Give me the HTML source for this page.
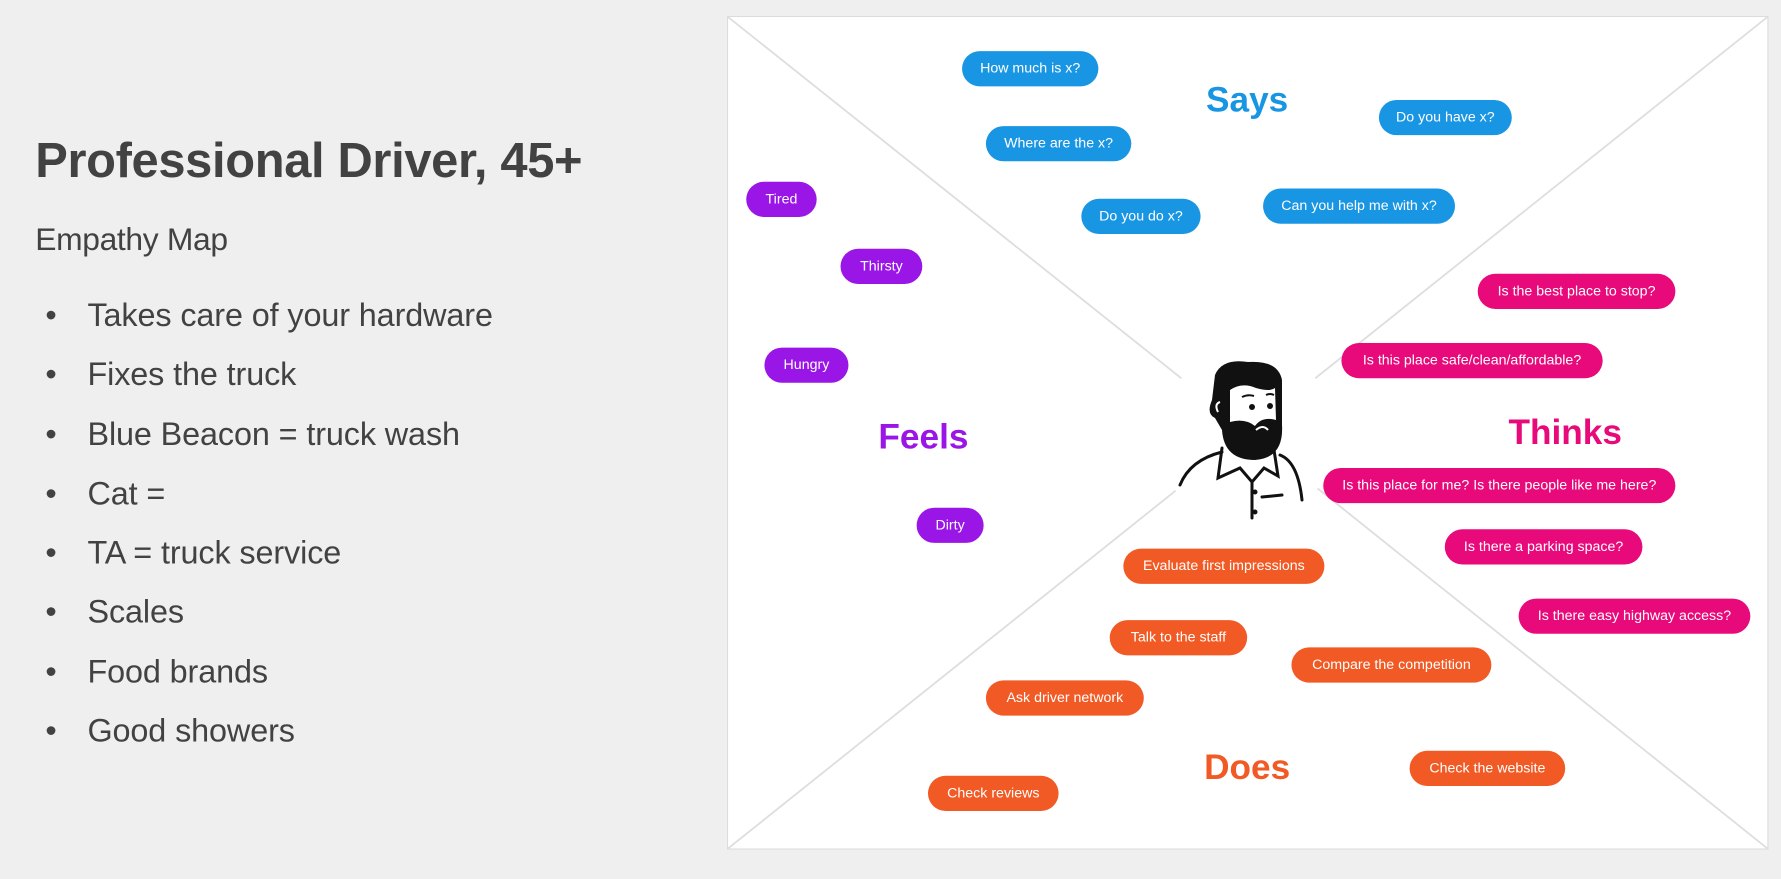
<!DOCTYPE html>
<html><head><meta charset="utf-8"><style>
html,body{margin:0;padding:0;}
body{width:1781px;height:879px;background:#efefef;overflow:hidden;position:relative;font-family:"Liberation Sans",sans-serif;}
#s{position:absolute;left:0;top:0;width:1568px;height:774px;transform:scale(1.13584);transform-origin:0 0;}
.t{position:absolute;color:#424242;white-space:nowrap;}
.li{position:relative;padding-left:37px;}
.li:before{content:"•";position:absolute;left:0;}
.p{position:absolute;height:31px;line-height:31px;border-radius:16px;color:#fff;font-size:12.5px;text-align:center;white-space:nowrap;}
.b{background:#1996e3}.v{background:#9a16e6}.k{background:#e80a7a}.o{background:#f15a24}
.h{position:absolute;font-weight:bold;font-size:31px;transform:translate(-50%,-50%);white-space:nowrap;}
</style></head><body>
<div id="s">
<div class="t" style="left:31px;top:118px;font-size:43px;font-weight:bold;letter-spacing:-0.3px;">Professional Driver, 45+</div>
<div class="t" style="left:31px;top:195px;font-size:28px;letter-spacing:-0.3px;">Empathy Map</div>
<div class="t" style="left:40px;top:252px;font-size:28.5px;line-height:52.3px;letter-spacing:-0.1px;">
<div class="li">Takes care of your hardware</div>
<div class="li">Fixes the truck</div>
<div class="li">Blue Beacon = truck wash</div>
<div class="li">Cat =</div>
<div class="li">TA = truck service</div>
<div class="li">Scales</div>
<div class="li">Food brands</div>
<div class="li">Good showers</div>
</div>
<div style="position:absolute;left:640px;top:14px;width:915px;height:732px;background:#fff;border:1.5px solid #dcdcdc;"></div>
<svg style="position:absolute;left:0;top:0" width="1568" height="774">
<g stroke="#dedede" stroke-width="1.6">
<line x1="641" y1="15" x2="1040" y2="333"/>
<line x1="1556" y1="15" x2="1158" y2="333"/>
<line x1="641" y1="747" x2="1035" y2="432"/>
<line x1="1556" y1="747" x2="1160" y2="430"/>
</g></svg>
<div class="h" style="left:1098px;top:88px;color:#1996e3">Says</div>
<div class="h" style="left:813px;top:385px;color:#9a16e6">Feels</div>
<div class="h" style="left:1378px;top:381px;color:#e80a7a">Thinks</div>
<div class="h" style="left:1098px;top:676px;color:#f15a24">Does</div>

<div class="p b" style="left:847px;top:45px;width:120px">How much is x?</div>
<div class="p b" style="left:868px;top:111px;width:128px">Where are the x?</div>
<div class="p b" style="left:1214px;top:88px;width:117px">Do you have x?</div>
<div class="p b" style="left:952px;top:175px;width:105px">Do you do x?</div>
<div class="p b" style="left:1112px;top:166px;width:169px">Can you help me with x?</div>

<div class="p v" style="left:657px;top:160px;width:62px">Tired</div>
<div class="p v" style="left:740px;top:219px;width:72px">Thirsty</div>
<div class="p v" style="left:673px;top:306px;width:74px">Hungry</div>
<div class="p v" style="left:807px;top:447px;width:59px">Dirty</div>

<div class="p k" style="left:1301px;top:241px;width:174px">Is the best place to stop?</div>
<div class="p k" style="left:1181px;top:302px;width:230px">Is this place safe/clean/affordable?</div>
<div class="p k" style="left:1165px;top:412px;width:310px">Is this place for me? Is there people like me here?</div>
<div class="p k" style="left:1272px;top:466px;width:174px">Is there a parking space?</div>
<div class="p k" style="left:1337px;top:527px;width:204px">Is there easy highway access?</div>

<div class="p o" style="left:989px;top:483px;width:177px">Evaluate first impressions</div>
<div class="p o" style="left:977px;top:546px;width:121px">Talk to the staff</div>
<div class="p o" style="left:1137px;top:570px;width:176px">Compare the competition</div>
<div class="p o" style="left:868px;top:599px;width:139px">Ask driver network</div>
<div class="p o" style="left:1241px;top:661px;width:137px">Check the website</div>
<div class="p o" style="left:817px;top:683px;width:115px">Check reviews</div>
</div>

<svg style="position:absolute;left:1160px;top:350px" width="180" height="180" viewBox="0 0 180 180">
<g fill="none" stroke="#111" stroke-width="3" stroke-linecap="round">
<path d="M20 135 Q30 110 62 102"/>
<path d="M120 105 Q138 112 142 150"/>
<path d="M62 98 L58 128 L80 118 L92 132 L104 118 L118 126 L114 100"/>
<path d="M92 132 L92 168"/>
<path d="M102 147 L122 145"/>
</g>
<circle cx="95" cy="142" r="2.5" fill="#111"/><circle cx="95" cy="162" r="2.5" fill="#111"/>
<path d="M55 25 Q62 8 88 12 Q118 10 122 30 L122 75 Q124 108 95 110 Q64 110 62 80 L55 68 Q46 64 52 50 Z" fill="#111"/>
<path d="M70 40 Q82 32 96 38 Q110 42 115 38 L116 70 Q102 66 95 76 Q85 68 70 72 Z" fill="#fff"/>
<path d="M58 62 Q54 54 60 52" stroke="#fff" stroke-width="2" fill="none"/>
<circle cx="92" cy="57" r="3" fill="#111"/><circle cx="110" cy="56" r="3" fill="#111"/>
<path d="M82 47 Q88 44 94 46 M106 45 Q110 43 114 45" stroke="#111" stroke-width="2" fill="none"/>
<path d="M96 80 Q103 74 108 80" stroke="#fff" stroke-width="2" fill="none"/>
</svg>
</body></html>
